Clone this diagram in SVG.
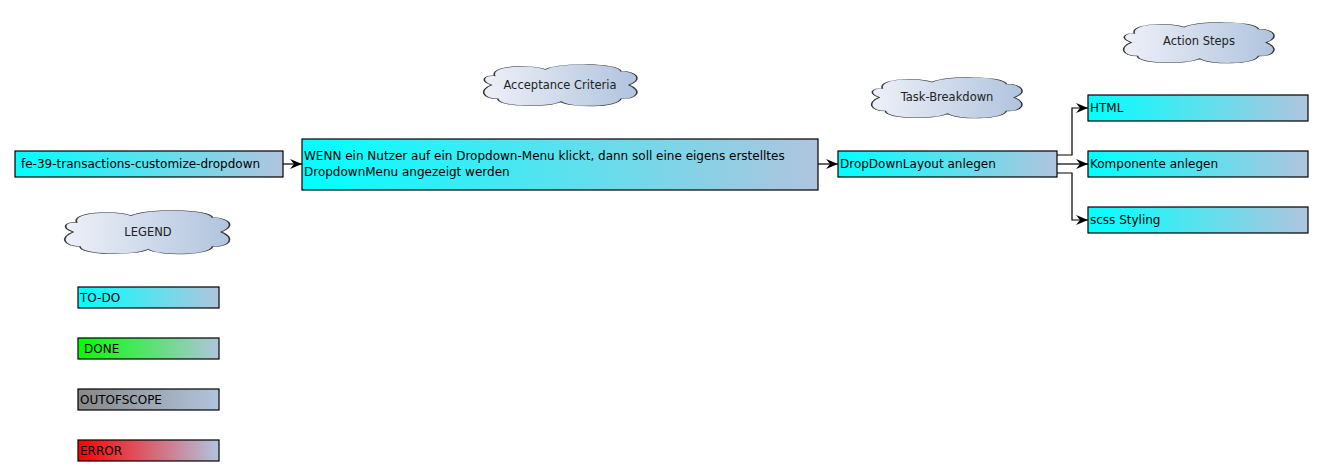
<svg xmlns="http://www.w3.org/2000/svg" width="1324" height="476" viewBox="0 0 1324 476">
<style>
.box{stroke:#000;stroke-width:1.2}
.t{font-family:"DejaVu Sans",Verdana,sans-serif;font-size:12px;fill:#000}
.ct{font-family:"DejaVu Sans",Verdana,sans-serif;font-size:11.5px;fill:#222;text-anchor:middle}
.cloud{fill:url(#gc);stroke:#333;stroke-width:1;vector-effect:non-scaling-stroke}
.con{fill:none;stroke:#000;stroke-width:1.2;marker-end:url(#ah)}
</style>
<defs>
<linearGradient id="gt" x1="0" y1="0" x2="1" y2="0"><stop offset="0" stop-color="#00FFFF"/><stop offset="1" stop-color="#B0C4DE"/></linearGradient>
<linearGradient id="gd" x1="0" y1="0" x2="1" y2="0"><stop offset="0" stop-color="#00FF00"/><stop offset="1" stop-color="#B0C4DE"/></linearGradient>
<linearGradient id="go" x1="0" y1="0" x2="1" y2="0"><stop offset="0" stop-color="#888888"/><stop offset="1" stop-color="#B0C4DE"/></linearGradient>
<linearGradient id="ge" x1="0" y1="0" x2="1" y2="0"><stop offset="0" stop-color="#FF0000"/><stop offset="1" stop-color="#B0C4DE"/></linearGradient>
<linearGradient id="gc" x1="0" y1="0" x2="1" y2="0"><stop offset="0" stop-color="#EEF0F8"/><stop offset="1" stop-color="#B0C4DE"/></linearGradient>
<marker id="ah" viewBox="0 0 12 10" refX="12" refY="5" markerWidth="12" markerHeight="10" markerUnits="userSpaceOnUse" orient="auto"><path d="M0,0 L12,5 L0,10 L4,5 Z" fill="#000"/></marker>
<path id="cl" d="M8,30 C5,8 30,4 40,16 C50,0 86,2 88,20 C98,20 102,38 93,50 C102,62 98,82 88,80 C86,100 56,100 50,86 C42,100 10,98 10,80 C0,80 -2,60 6,50 C-2,40 2,28 8,30 Z"/>
</defs>

<g id="connectors">
<path class="con" d="M283,164 L302,164"/>
<path class="con" d="M818,164 L838,164"/>
<path class="con" d="M1057,155 L1072,155 L1072,108 L1088,108"/>
<path class="con" d="M1057,164 L1088,164"/>
<path class="con" d="M1057,173 L1072,173 L1072,220 L1088,220"/>
</g>

<g id="n-story">
<rect class="box" x="15" y="151" width="268" height="26" fill="url(#gt)"/>
<text class="t" x="21" y="168">fe-39-transactions-customize-dropdown</text>
</g>

<g id="n-ac">
<rect class="box" x="302" y="139" width="516" height="51" fill="url(#gt)"/>
<text class="t" x="304" y="160">WENN ein Nutzer auf ein Dropdown-Menu klickt, dann soll eine eigens erstelltes</text>
<text class="t" x="304" y="176">DropdownMenu angezeigt werden</text>
</g>

<g id="n-task">
<rect class="box" x="838" y="151" width="219" height="26" fill="url(#gt)"/>
<text class="t" x="840" y="168">DropDownLayout anlegen</text>
</g>

<g id="n-html">
<rect class="box" x="1088" y="95" width="220" height="26" fill="url(#gt)"/>
<text class="t" x="1090" y="112">HTML</text>
</g>

<g id="n-komp">
<rect class="box" x="1088" y="151" width="220" height="26" fill="url(#gt)"/>
<text class="t" x="1090" y="168">Komponente anlegen</text>
</g>

<g id="n-scss">
<rect class="box" x="1088" y="207" width="220" height="26" fill="url(#gt)"/>
<text class="t" x="1090" y="224">scss Styling</text>
</g>

<g id="cloud-ac">
<use href="#cl" class="cloud" transform="translate(482,62) scale(1.58,0.46)"/>
<text class="ct" x="560" y="89">Acceptance Criteria</text>
</g>

<g id="cloud-task">
<use href="#cl" class="cloud" transform="translate(870,75) scale(1.55,0.45)"/>
<text class="ct" x="947" y="101">Task-Breakdown</text>
</g>

<g id="cloud-steps">
<use href="#cl" class="cloud" transform="translate(1122,20) scale(1.55,0.45)"/>
<text class="ct" x="1199" y="45">Action Steps</text>
</g>

<g id="cloud-legend">
<use href="#cl" class="cloud" transform="translate(63,208) scale(1.7,0.48)"/>
<text class="ct" x="148" y="236">LEGEND</text>
</g>

<g id="legend-todo">
<rect class="box" x="78" y="287" width="141" height="21" fill="url(#gt)"/>
<text class="t" x="80" y="302">TO-DO</text>
</g>
<g id="legend-done">
<rect class="box" x="78" y="338" width="141" height="21" fill="url(#gd)"/>
<text class="t" x="84" y="353">DONE</text>
</g>
<g id="legend-oos">
<rect class="box" x="78" y="389" width="141" height="21" fill="url(#go)"/>
<text class="t" x="80" y="404">OUTOFSCOPE</text>
</g>
<g id="legend-error">
<rect class="box" x="78" y="440" width="141" height="21" fill="url(#ge)"/>
<text class="t" x="80" y="455">ERROR</text>
</g>
</svg>
